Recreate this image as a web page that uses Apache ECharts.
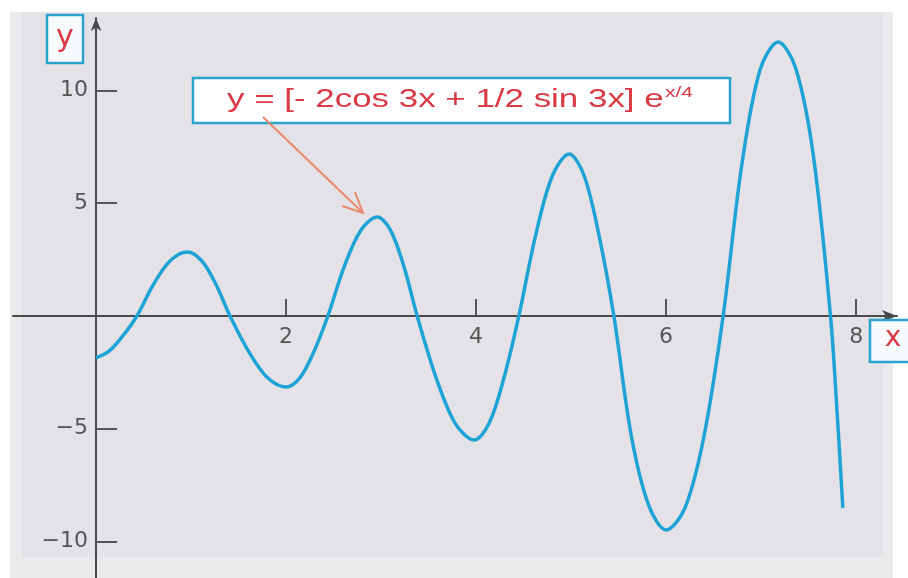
<!DOCTYPE html>
<html>
<head>
<meta charset="utf-8">
<title>Damped-growth oscillation</title>
<script src="https://cdn.jsdelivr.net/npm/echarts@6/dist/echarts.min.js"></script>
<style>
  html, body { margin: 0; padding: 0; background: #ffffff; }
  #chart { width: 908px; height: 578px; }
</style>
</head>
<body>
<div id="chart"></div>
<script>
// Sampled points of y = [-2cos 3x + 1/2 sin 3x] e^(x/4):
// zero crossings, turning points and two points in every quarter wave
const xValues = [
  0.00, 0.14, 0.29, 0.43, 0.607, 0.783, 0.96, 1.11, 1.26, 1.41,
  1.607, 1.803, 2.00, 2.147, 2.293, 2.44, 2.613, 2.787, 2.96, 3.10,
  3.24, 3.38, 3.58, 3.78, 3.98, 4.137, 4.293, 4.45, 4.627, 4.803,
  4.98, 5.137, 5.293, 5.45, 5.633, 5.817, 6.00, 6.20, 6.40, 6.60,
  6.793, 6.987, 7.18, 7.363, 7.547, 7.73, 7.80, 7.86
];
const yValues = [
  -1.86, -1.55, -0.84, 0.00, 1.42, 2.46, 2.84, 2.46, 1.42, 0.00,
  -1.58, -2.73, -3.15, -2.73, -1.58, 0.00, 2.20, 3.80, 4.39, 3.80,
  2.20, 0.00, -2.75, -4.76, -5.50, -4.76, -2.75, 0.00, 3.59, 6.22,
  7.18, 6.22, 3.59, 0.00, -5.30, -8.40, -9.49, -8.50, -5.30, 0.00,
  6.60, 10.90, 12.15, 11.00, 7.20, 0.00, -4.30, -8.51
];
const xTicks = [2, 4, 6, 8];
const yTicks = [-10, -5, 5, 10];
const formulaMain = 'y = [- 2cos 3x + 1/2 sin 3x] e';
const formulaExp = 'x/4';

const curve = xValues.map((x, i) => [x, yValues[i]]);

const X_MIN = -0.874, X_MAX = 8.43;
const Y_MIN = -11.619, Y_MAX = 13.215;
const GRID = { left: 13, right: 11, top: 18, bottom: 0 };
const W = 908, H = 578;

// axes cross at the origin: shift each axis from the grid edge to zero
const plotW = W - GRID.left - GRID.right;
const plotH = H - GRID.top - GRID.bottom;
const yAxisShift = -plotW * (0 - X_MIN) / (X_MAX - X_MIN);
const xAxisShift = -plotH * (0 - Y_MIN) / (Y_MAX - Y_MIN);

const AXIS = '#4a4a4a';
const LABEL = '#555555';
const BOX = '#2aa3cf';
const RED = '#d93a44';
const FONT = '"DejaVu Sans", "Liberation Sans", sans-serif';
const SANS = '"Liberation Sans", Arial, sans-serif';

// stretch the formula to its box width
const measure = document.createElement('canvas').getContext('2d');
measure.font = '25px ' + SANS;
let formulaW = measure.measureText(formulaMain).width;
measure.font = '15px ' + SANS;
formulaW += measure.measureText(formulaExp).width + 1;
const formulaScale = 466 / formulaW;

const chart = echarts.init(document.getElementById('chart'), null, { renderer: 'canvas' });

chart.setOption({
  backgroundColor: '#ffffff',
  animation: false,
  grid: Object.assign({ containLabel: false, outerBoundsMode: 'none' }, GRID),
  xAxis: {
    type: 'value',
    min: X_MIN,
    max: X_MAX,
    position: 'bottom',
    offset: xAxisShift,
    splitLine: { show: false },
    axisLine: {
      onZero: false,
      symbol: ['none', 'arrow'],
      symbolSize: [9, 15],
      lineStyle: { color: AXIS, width: 2 }
    },
    axisTick: {
      inside: true,
      length: 17,
      customValues: xTicks,
      lineStyle: { color: LABEL, width: 2 }
    },
    axisLabel: {
      customValues: xTicks,
      margin: 10,
      color: LABEL,
      fontSize: 22,
      fontFamily: FONT
    }
  },
  yAxis: {
    type: 'value',
    min: Y_MIN,
    max: Y_MAX,
    position: 'left',
    offset: yAxisShift,
    splitLine: { show: false },
    axisLine: {
      onZero: false,
      symbol: ['none', 'arrow'],
      symbolSize: [8, 13],
      lineStyle: { color: AXIS, width: 2 }
    },
    axisTick: {
      inside: true,
      length: 21,
      customValues: yTicks,
      lineStyle: { color: LABEL, width: 2 }
    },
    axisLabel: {
      customValues: yTicks,
      margin: 8,
      color: LABEL,
      fontSize: 22,
      fontFamily: FONT,
      formatter: v => String(v).replace('-', '\u2212')
    }
  },
  series: [{
    type: 'line',
    data: curve,
    smooth: 0.33,
    showSymbol: false,
    silent: true,
    z: 3,
    lineStyle: { color: '#1ea3d6', width: 3.5 }
  }],
  graphic: [
    // panel backdrop
    { type: 'rect', z: -100, shape: { x: 10, y: 12, width: 883, height: 566 },
      style: { fill: '#eae9ec' } },
    { type: 'rect', z: -99, shape: { x: 22, y: 12, width: 861, height: 545 },
      style: { fill: '#e5e2e7' } },
    // axis name boxes
    { type: 'rect', z: 50, shape: { x: 47, y: 15, width: 36, height: 48 },
      style: { fill: '#f7fbfd', stroke: BOX, lineWidth: 2.5 } },
    { type: 'text', z: 51, x: 65, y: 38,
      style: { text: 'y', fill: RED, font: '30px ' + FONT, align: 'center', verticalAlign: 'middle' } },
    { type: 'rect', z: 50, shape: { x: 870, y: 320, width: 44, height: 42 },
      style: { fill: '#f7fbfd', stroke: BOX, lineWidth: 2.5 } },
    { type: 'text', z: 51, x: 893, y: 339,
      style: { text: 'x', fill: RED, font: '28px ' + FONT, align: 'center', verticalAlign: 'middle' } },
    // formula label
    { type: 'rect', z: 50, shape: { x: 193, y: 78, width: 537, height: 45 },
      style: { fill: '#fcfeff', stroke: BOX, lineWidth: 2.5 } },
    { type: 'text', z: 51, x: 227, y: 99, scaleX: formulaScale,
      style: {
        text: '{m|' + formulaMain + '}{s|' + formulaExp + '}',
        verticalAlign: 'middle',
        rich: {
          m: { fill: RED, fontSize: 25, fontFamily: SANS, lineHeight: 28, verticalAlign: 'bottom' },
          s: { fill: RED, fontSize: 15, fontFamily: SANS, lineHeight: 28, verticalAlign: 'top', padding: [0, 0, 0, 1] }
        }
      } },
    // pointer to the third extremum
    { type: 'line', z: 52, shape: { x1: 263, y1: 117, x2: 362, y2: 212 },
      style: { stroke: '#e98a6e', lineWidth: 2 } },
    { type: 'polyline', z: 52, shape: { points: [[355, 192], [363, 213], [342, 206]] },
      style: { stroke: '#e98a6e', lineWidth: 2, fill: null } }
  ]
});
</script>
</body>
</html>
